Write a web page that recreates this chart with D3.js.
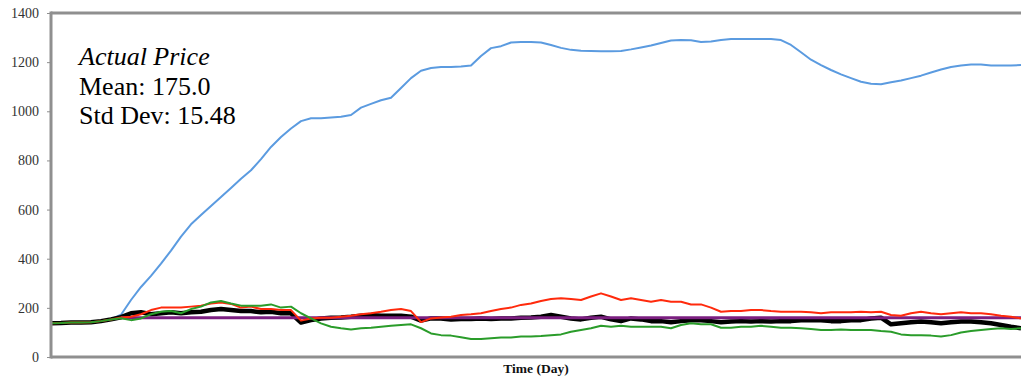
<!DOCTYPE html>
<html><head><meta charset="utf-8">
<script src="https://cdn.jsdelivr.net/npm/d3@7"></script>
<style>body{margin:0;background:#fff}svg{display:block}</style>
</head><body><svg id="c" width="1021" height="383"></svg>
<script>
const days = [0,10,20,30,40,50,60,70,80,90,100,110,120,130,140,150,160,170,180,190,200,210,220,230,240,250,260,270,280,290,300,310,320,330,340,350,360,370,380,390,400,410,420,430,440,450,460,470,480,490,500,510,520,530,540,550,560,570,580,590,600,610,620,630,640,650,660,670,680,690,700,710,720,730,740,750,760,770,780,790,800,810,820,830,840,850,860,870,880,890,900,910,920,930,940,950,960,970];
const blueSeries = [137,138,140,140,141,146,153,172,232,285,330,380,433,490,540,578,615,651,688,725,760,805,855,895,930,960,972,972,975,978,985,1015,1030,1045,1055,1095,1135,1165,1176,1180,1180,1182,1186,1225,1257,1265,1280,1282,1282,1280,1270,1258,1250,1246,1245,1244,1244,1245,1252,1260,1268,1278,1288,1290,1289,1282,1284,1290,1294,1294,1294,1294,1294,1290,1270,1240,1210,1188,1168,1150,1135,1120,1112,1110,1118,1125,1135,1145,1158,1170,1180,1186,1190,1190,1186,1186,1186,1188];
const blackSeries = [137,138,140,140,141,146,153,162,178,182,174,178,182,178,182,184,191,195,191,187,187,182,184,178,178,140,150,157,160,161,164,168,171,168,168,168,164,148,157,157,153,155,155,157,155,157,157,160,161,164,171,164,157,153,160,164,153,146,157,153,146,146,141,146,150,150,146,141,144,146,144,146,144,146,146,150,150,150,146,146,150,150,157,160,133,137,141,144,141,137,141,144,144,141,137,130,123,117];
const redSeries = [137,138,140,140,141,146,153,161,164,174,191,201,201,201,205,209,218,222,216,201,205,195,195,191,191,148,157,160,160,164,168,174,178,184,191,195,187,142,157,161,164,171,174,178,187,195,201,212,218,228,236,239,236,232,246,259,246,232,239,232,225,232,225,225,214,214,201,184,187,187,191,191,187,184,184,184,182,178,182,182,182,184,182,184,171,168,178,184,178,174,178,182,178,178,174,168,164,157];
const greenSeries = [137,138,140,140,141,146,153,158,150,157,174,184,187,178,195,205,222,228,218,209,209,209,214,201,205,178,157,137,123,117,112,117,119,123,127,130,133,117,96,89,87,80,73,73,76,79,79,83,83,85,89,92,103,110,117,127,123,127,123,123,123,123,117,130,137,133,133,119,119,123,123,127,123,119,119,117,114,110,110,112,110,110,110,106,103,92,89,89,87,83,89,100,106,110,114,117,114,117];
const purpleSeries = [null,null,null,null,null,null,null,160,160,160,160,160,160,160,160,160,160,160,160,160,160,160,160,160,160,160,160,160,160,160,160,160,160,160,160,160,160,160,160,160,160,160,160,160,160,160,160,160,160,160,160,160,160,160,160,160,160,160,160,160,160,160,160,160,160,160,160,160,160,160,160,160,160,160,160,160,160,160,160,160,160,160,160,160,160,160,160,160,160,160,160,160,160,160,160,160,160,160];
const yTicks = [0,200,400,600,800,1000,1200,1400];
const noteLines = ["Actual Price","Mean: 175.0","Std Dev: 15.48"];
const xTitle = "Time (Day)";

const svg = d3.select("#c");
const L = 51, R = 1021, T = 13, B = 357;
const x = d3.scaleLinear().domain([0, 970]).range([L, R]);
const y = d3.scaleLinear().domain([0, 1400]).range([B, T]);

const series = [
  {v: blueSeries, c: "#5b9be0", w: 2},
  {v: blackSeries, c: "#000000", w: 4.5},
  {v: purpleSeries, c: "#7b1f80", w: 3},
  {v: redSeries, c: "#ff2a0c", w: 2},
  {v: greenSeries, c: "#2a9c2a", w: 2}
];
const line = d3.line().defined(d => d[1] != null).x(d => x(d[0])).y(d => y(d[1]));
series.forEach(s => {
  svg.append("path").datum(days.map((d, i) => [d, s.v[i]]))
    .attr("d", line).attr("fill", "none").attr("stroke", s.c)
    .attr("stroke-width", s.w).attr("stroke-linejoin", "round");
});

// frame
svg.append("line").attr("x1", L).attr("x2", R).attr("y1", T).attr("y2", T)
  .attr("stroke", "#8f8f8f").attr("stroke-width", 3);
svg.append("line").attr("x1", L).attr("x2", R).attr("y1", B).attr("y2", B)
  .attr("stroke", "#8f8f8f").attr("stroke-width", 3);

const ax = svg.append("g").attr("transform", `translate(${L},0)`)
  .call(d3.axisLeft(y).tickValues(yTicks).tickSize(4).tickPadding(8).tickFormat(d3.format("d")));
ax.select(".domain").attr("stroke", "#8f8f8f").attr("stroke-width", 3).attr("d", `M0,${T-1.5}V${B+1.5}`);
ax.selectAll(".tick line").attr("stroke", "#8f8f8f");
ax.selectAll(".tick text").attr("font-family", "'Liberation Serif', serif").attr("font-size", 14).attr("fill", "#333");

// note text
noteLines.forEach((t, i) => {
  svg.append("text").attr("x", 79).attr("y", 65 + i * 29.5)
    .attr("font-family", "'Liberation Serif', serif").attr("font-size", 26)
    .attr("font-style", i === 0 ? "italic" : "normal").attr("fill", "#000").text(t);
});

svg.append("text").attr("x", 536).attr("y", 373).attr("text-anchor", "middle")
  .attr("font-family", "'Liberation Serif', serif").attr("font-size", 13.5)
  .attr("font-weight", "bold").attr("fill", "#111").text(xTitle);
</script></body></html>
